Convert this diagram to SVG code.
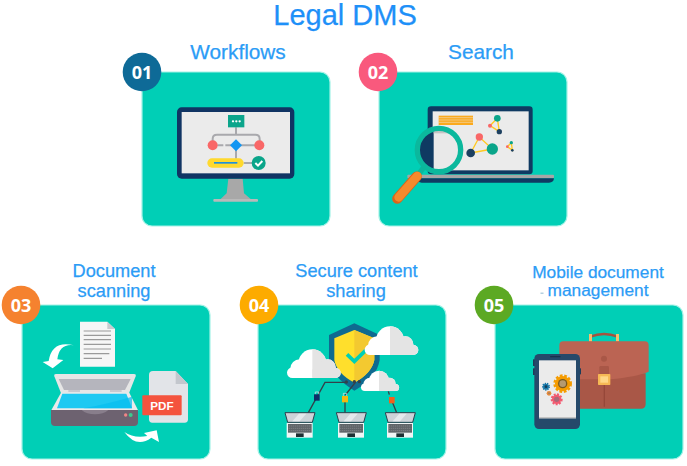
<svg xmlns="http://www.w3.org/2000/svg" xmlns:xlink="http://www.w3.org/1999/xlink" width="687" height="466" viewBox="0 0 687 466">
<style>
text{font-family:"Liberation Sans",Arial,sans-serif}
.h{fill:#2b9cf6;stroke:#2b9cf6;stroke-width:.25;font-size:20.800px;text-anchor:middle}
.h2{fill:#2b9cf6;stroke:#2b9cf6;stroke-width:.25;font-size:18.200px;text-anchor:middle}
.h3{fill:#2b9cf6;stroke:#2b9cf6;stroke-width:.25;font-size:17.300px;text-anchor:middle}
.card{fill:#00cfb6;stroke:#a4f2e6;stroke-width:1.2}
.num{fill:#fff;font-family:"Open Sans","Liberation Sans",sans-serif;font-weight:700;font-size:18px;text-anchor:middle}
.gl{stroke:#a9a9ad;stroke-width:6;fill:none}
.dl{stroke:#9a9a9a;stroke-width:3.5}
.cab{stroke:#33404a;stroke-width:4;fill:none}
.yl{stroke:#ffc91f;stroke-width:4;fill:none}
</style>
<defs>
<clipPath id="lens"><circle cx="252" cy="360" r="60"/></clipPath>
<clipPath id="rhalf"><rect x="76" y="-5" width="100" height="100"/></clipPath>
<g id="cloudShape">
<circle cx="76" cy="42" r="42"/><circle cx="38" cy="58" r="28"/><circle cx="122" cy="54" r="24"/><circle cx="16" cy="70" r="16"/><circle cx="146" cy="71" r="15"/><rect x="16" y="60" width="130" height="26"/>
</g>
<g id="cloud">
<use xlink:href="#cloudShape" href="#cloudShape" fill="#fff"/>
<g clip-path="url(#rhalf)"><use xlink:href="#cloudShape" href="#cloudShape" fill="#e4e4e4"/></g>
</g>
<g id="laptop">
<path d="M150,458H240L232,487H158Z" fill="#ccd3d8" stroke="#2d3f4e" stroke-width="3"/>
<path d="M172,484L192,461H214L194,484Z" fill="#e4e9ec"/>
<rect x="155" y="489" width="78" height="44" fill="#f1f5f5"/>
<rect x="159" y="492" width="71" height="26" fill="#5f6468"/>
<path d="M161,498H228M161,505H228M161,512H228" stroke="#9a9ea2" stroke-width="1.500" stroke-dasharray="4 2"/>
<rect x="183" y="520" width="23" height="11" fill="#1e2f33"/>
</g>
</defs>

<text x="345" y="25" fill="#1e90f8" stroke="#1e90f8" stroke-width=".25" font-size="29" text-anchor="middle">Legal DMS</text>

<g id="node-01">
<text class="h" x="238" y="59">Workflows</text>
<rect class="card" x="142" y="72" width="188" height="154" rx="10"/>
<g transform="translate(120,0) scale(.33333)">
<path d="M325,536H368L372,580L392,597H302L320,580Z" fill="#a8a8a8"/>
<rect x="280" y="597" width="134" height="8" rx="3" fill="#b9b9b9"/>
<rect x="171" y="322" width="352" height="214" rx="14" fill="#103463"/>
<rect x="185" y="336" width="325" height="184" fill="#ebebeb"/>
<path class="gl" d="M348,382V404M278,425V417Q278,404 291,404H406Q419,404 419,417V425M292,436H310M316,436H340M360,436H405M348,450V476M371,489H396"/>
<rect x="324" y="345" width="49" height="37" fill="#0ba58b"/>
<circle cx="339" cy="364" r="3.500" fill="#fff"/><circle cx="349" cy="364" r="3.500" fill="#fff"/><circle cx="359" cy="364" r="3.500" fill="#fff"/>
<circle cx="278" cy="436" r="15" fill="#f96767"/><circle cx="418" cy="436" r="15" fill="#f96767"/>
<path d="M348,418L366,436L348,454L330,436Z" fill="#1296f2"/>
<rect x="262" y="475" width="109" height="28" rx="14" fill="#ffd92e"/>
<rect x="282" y="486" width="70" height="5" fill="#1e90dd"/>
<circle cx="416" cy="489" r="21" fill="#0aa58a"/>
<path d="M406,489L414,497L427,483" fill="none" stroke="#fff" stroke-width="6"/>
</g>
<circle cx="142" cy="72" r="19.300" fill="#0e6a97"/>
<text class="num" x="142" y="78.500">01</text>
</g>

<g id="node-02">
<text class="h" x="481" y="59">Search</text>
<rect class="card" x="379" y="72" width="188" height="154" rx="10"/>
<g transform="translate(355,30) scale(.33333)">
<rect x="218" y="229" width="315" height="204" rx="10" fill="#0f3a62"/>
<rect x="233" y="244" width="288" height="177" fill="#ebebeb"/>
<rect x="157" y="434" width="440" height="11" rx="3" fill="#a6a6a6"/>
<path d="M185,445H597Q596,458 582,458H200Q188,458 185,445Z" fill="#0f3a62"/>
<rect x="251" y="257" width="103" height="28" fill="#fbaa1e"/>
<path d="M251,263H354M251,270H354M251,277H354" stroke="#ebebeb" stroke-width="1.500"/>
<path class="yl" d="M373,321L347,369L412,357Z"/>
<path class="yl" d="M427,265L405,287L433,305Z" stroke-width="3"/>
<path class="yl" d="M469,338L457,350L472,361Z" stroke-width="2"/>
<circle cx="373" cy="321" r="11" fill="#f96767"/><circle cx="347" cy="369" r="13" fill="#1d4060"/><circle cx="412" cy="357" r="17" fill="#0aa58a"/>
<circle cx="427" cy="265" r="10" fill="#0aa58a"/><circle cx="405" cy="287" r="6" fill="#f96767"/><circle cx="433" cy="305" r="8" fill="#1d4060"/>
<circle cx="469" cy="338" r="5" fill="#0aa58a"/><circle cx="457" cy="350" r="4" fill="#f96767"/><circle cx="472" cy="361" r="4" fill="#1d4060"/>
<g clip-path="url(#lens)">
<rect x="186" y="294" width="132" height="132" fill="#e9e9e9"/>
<rect x="186" y="294" width="50" height="132" fill="#0f3a62"/>
<rect x="236" y="294" width="82" height="16" fill="#c4c4c4"/>
</g>
<path d="M208,410L190,434" stroke="#0bb89d" stroke-width="16"/>
<circle cx="252" cy="360" r="65" fill="none" stroke="#0bb89d" stroke-width="16"/>
<path d="M185,440L127,506" stroke="#d9651a" stroke-width="31" stroke-linecap="round"/>
<path d="M187,438L131,502" stroke="#f58a2c" stroke-width="26" stroke-linecap="round"/>
</g>
<circle cx="378" cy="72" r="19.300" fill="#f9597d"/>
<text class="num" x="378" y="78.500">02</text>
</g>

<g id="node-03">
<text class="h2" x="114" y="277">Document</text>
<text class="h2" x="114" y="297">scanning</text>
<rect class="card" x="22" y="305" width="188" height="154" rx="10"/>
<g transform="translate(0,260) scale(.33333)">
<path d="M240,185H322L345,207V320H240Z" fill="#f6f6f6"/>
<path d="M322,185L345,207H322Z" fill="#c9ccd0"/>
<path class="dl" d="M251,213H333M251,226H333M251,239H333M251,253H333M251,267H333M251,281H328M251,295H306"/>
<path d="M222,256Q178,250 172,298L190,300L158,325L128,306L146,303Q156,240 222,256Z" fill="#fff"/>
<path d="M168,342H402Q409,342 407,349L386,402H184L163,349Q161,342 168,342Z" fill="#e6e6e6"/>
<path d="M176,357H392L375,390H192Z" fill="#b5b5bd"/>
<path d="M183,398H388L415,452H153Z" fill="#eaeaea"/>
<path d="M187,401H379L396,445H171Z" fill="#1ec9f2"/>
<path d="M250,445Q330,430 396,410V445Z" fill="#05bdf0" opacity=".7"/>
<rect x="205" y="390" width="35" height="6" fill="#c9c9cf"/><rect x="330" y="390" width="35" height="6" fill="#c9c9cf"/>
<path d="M153,450H414V486Q414,498 402,498H165Q153,498 153,486Z" fill="#6d6270"/>
<path d="M245,450H325Q310,463 285,463Q260,463 245,450Z" fill="#887e8b"/>
<circle cx="377" cy="465" r="5" fill="#f08585"/><circle cx="392" cy="465" r="6" fill="#3bcb8d"/>
<path d="M447,345Q447,333 459,333H527L564,372V478Q564,488 554,488H457Q447,488 447,478Z" fill="#e2e4e8"/>
<path d="M527,333L564,372H527Z" fill="#c3c7cd"/>
<rect x="427" y="406" width="118" height="60" rx="3" fill="#f4533e"/>
<text x="486" y="450" fill="#fff" font-size="35" font-weight="700" text-anchor="middle" font-family="Open Sans, Liberation Sans, sans-serif">PDF</text>
<path d="M373,516Q402,536 442,528L432,519L470,511L477,546L454,533Q410,566 373,516Z" fill="#fff"/>
</g>
<circle cx="21" cy="305" r="19.300" fill="#f5822f"/>
<text class="num" x="21" y="311.500">03</text>
</g>

<g id="node-04">
<text class="h2" x="356.500" y="277">Secure content</text>
<text class="h2" x="356" y="297">sharing</text>
<rect class="card" x="258" y="305" width="188" height="154" rx="10"/>
<g transform="translate(235,260) scale(.33333)">
<path d="M358,190L434,225V300Q425,355 358,392Q290,350 282,300V225Z" fill="#0f6a90"/>
<path d="M358,210L418,235V300Q410,340 358,368Q305,340 298,300V235Z" fill="#ffdf2c"/>
<path d="M358,210L418,235V300Q410,340 358,368Z" fill="#f3c930"/>
<path d="M336,283L358,304L392,271" fill="none" stroke="#00cfb6" stroke-width="11"/>
<use xlink:href="#cloud" href="#cloud" x="156" y="268"/>
<use xlink:href="#cloud" href="#cloud" x="389" y="199"/>
<use xlink:href="#cloud" href="#cloud" transform="translate(378,332) scale(.71)"/>
<path class="cab" d="M220,458L270,367H332M330,458V426M331,405L362,366M485,458L472,426M460,394L463,404"/>
<circle cx="334" cy="366" r="5" fill="#33404a"/><circle cx="358" cy="365" r="5" fill="#33404a"/><circle cx="373" cy="365" r="5" fill="#33404a"/>
<path d="M241,403V396H251V403M325,408V400H335V408" fill="none" stroke="#dfe6ea" stroke-width="2"/>
<rect x="237" y="403" width="17" height="19" fill="#0f2a66"/>
<rect x="321" y="408" width="18" height="19" fill="#f3b911"/>
<rect x="462" y="411" width="17" height="19" fill="#f2601c"/>
<use xlink:href="#laptop" href="#laptop"/>
<use xlink:href="#laptop" href="#laptop" x="154"/>
<use xlink:href="#laptop" href="#laptop" x="301"/>
</g>
<circle cx="259" cy="305" r="19.300" fill="#fdab00"/>
<text class="num" x="259" y="311.500">04</text>
</g>

<g id="node-05">
<text class="h3" x="598" y="277.500">Mobile document</text>
<text class="h3" x="598" y="296">management</text>
<rect x="540.500" y="292.500" width="3" height="1.500" fill="#b5cfe0"/>
<rect class="card" x="495" y="305" width="188" height="154" rx="10"/>
<g transform="translate(470,260) scale(.33333)">
<path d="M361,245V230Q402,214 443,230V245" fill="none" stroke="#a5533f" stroke-width="7"/>
<rect x="357" y="222" width="9" height="23" fill="#f5c06f"/><rect x="438" y="222" width="9" height="23" fill="#f5c06f"/>
<path d="M318,340H527V432Q527,446 513,446H318Z" fill="#a95747"/>
<path d="M403,355V440" stroke="#96483a" stroke-width="4"/>
<path d="M268,256Q268,244 280,244H524Q536,244 536,256V335Q500,350 420,358H320V320H268Z" fill="#bb6453"/>
<circle cx="402" cy="296" r="9" fill="#a95747"/>
<rect x="388" y="318" width="29" height="30" rx="4" fill="#a95747"/>
<rect x="384" y="342" width="37" height="33" rx="2" fill="#f7b955"/>
<rect x="391" y="349" width="23" height="19" fill="#ffd787"/>
<rect x="189" y="298" width="6" height="20" fill="#1d3c58"/><rect x="189" y="325" width="6" height="20" fill="#1d3c58"/><rect x="328" y="325" width="5" height="18" fill="#1d3c58"/>
<rect x="193" y="282" width="137" height="225" rx="14" fill="#25496a"/>
<rect x="207" y="301" width="111" height="174" fill="#ebebeb"/>
<rect x="207" y="472" width="111" height="3" fill="#b0b0b0"/>
<rect x="240" y="288" width="32" height="4" rx="2" fill="#16324c"/>
<circle cx="278" cy="371" r="23" fill="#f59c00"/>
<circle cx="278" cy="371" r="24" fill="none" stroke="#f59c00" stroke-width="8" stroke-dasharray="8 5"/>
<circle cx="278" cy="371" r="14" fill="#7a5a20"/><circle cx="278" cy="371" r="10" fill="#b59a70"/>
<circle cx="228" cy="380" r="9" fill="#1777a8"/>
<circle cx="228" cy="380" r="10" fill="none" stroke="#1777a8" stroke-width="4" stroke-dasharray="4 3"/>
<circle cx="228" cy="380" r="4" fill="#133b55"/>
<circle cx="237" cy="400" r="7" fill="#e88a3a"/><circle cx="237" cy="400" r="3" fill="#a8805e"/>
<circle cx="260" cy="418" r="14" fill="#f25a70"/>
<circle cx="260" cy="418" r="15" fill="none" stroke="#f25a70" stroke-width="6" stroke-dasharray="6 4"/>
<circle cx="260" cy="418" r="8" fill="#a86878"/>
</g>
<circle cx="494" cy="305" r="19.300" fill="#5ca923"/>
<text class="num" x="494" y="311.500">05</text>
</g>
</svg>
